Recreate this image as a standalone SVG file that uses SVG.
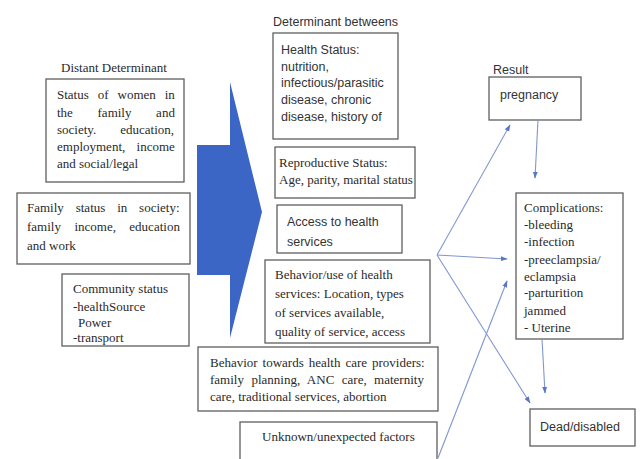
<svg xmlns="http://www.w3.org/2000/svg" width="641" height="459" viewBox="0 0 641 459">
<style>
.box{fill:#fff;stroke:#5f5f5f;stroke-width:1.3}
.s{font-family:"Liberation Serif","Times New Roman",serif;font-size:13px;fill:#2a2a2a}
.a{font-family:"Liberation Sans",Arial,sans-serif;font-size:12.5px;fill:#333}
.c{fill:none;stroke:#8096cf;stroke-width:1.1}
</style>
<defs>
<marker id="ah" viewBox="0 0 10 10" refX="9" refY="5" markerWidth="7" markerHeight="7" markerUnits="userSpaceOnUse" orient="auto">
<path d="M0,1.5 L10,5 L0,8.5 Z" fill="#5b76c4"/>
</marker>
</defs>
<rect width="641" height="459" fill="#fff"/>

<g id="labels">
<text class="s" x="61" y="72" font-size="14px">Distant Determinant</text>
<text class="a" x="273" y="26">Determinant betweens</text>
<text class="a" x="493" y="74" font-size="12px">Result</text>
</g>

<g id="bigArrow">
<polygon points="197,145 230,145 230,82 262,212 230,338 230,275 197,275" fill="#3c66c6"/>
</g>

<g id="statusWomen">
<rect class="box" x="46" y="79" width="138" height="103"/>
<text class="s" x="57" y="99" word-spacing="5.7">Status of women in</text>
<text class="s" x="57" y="117" word-spacing="21.4">the family and</text>
<text class="s" x="57" y="134" word-spacing="20.8">society. education,</text>
<text class="s" x="57" y="151" word-spacing="8.1">employment, income</text>
<text class="s" x="57" y="168">and social/legal</text>
</g>

<g id="familyStatus">
<rect class="box" x="17" y="193" width="173" height="71"/>
<text class="s" x="27" y="212" word-spacing="8.6">Family status in society:</text>
<text class="s" x="27" y="231" word-spacing="10.2">family income, education</text>
<text class="s" x="27" y="250">and work</text>
</g>

<g id="communityStatus">
<rect class="box" x="62" y="274" width="127" height="72"/>
<text class="s" x="73" y="293">Community status</text>
<text class="s" x="73" y="311">-healthSource</text>
<text class="s" x="78" y="327">Power</text>
<text class="s" x="73" y="342">-transport</text>
</g>

<g id="healthStatus">
<rect class="box" x="273" y="33" width="125" height="106"/>
<text class="a" x="281" y="54">Health Status:</text>
<text class="a" x="281" y="71">nutrition,</text>
<text class="a" x="281" y="87">infectious/parasitic</text>
<text class="a" x="281" y="104">disease, chronic</text>
<text class="a" x="281" y="121">disease, history of</text>
</g>

<g id="reproductiveStatus">
<rect class="box" x="275" y="147" width="140" height="51"/>
<text class="s" x="279" y="167">Reproductive Status:</text>
<text class="s" x="279" y="184">Age, parity, marital status</text>
</g>

<g id="access">
<rect class="box" x="277" y="205" width="125" height="48"/>
<text class="a" x="287" y="226">Access to health</text>
<text class="a" x="287" y="246">services</text>
</g>

<g id="behaviorUse">
<rect class="box" x="265" y="260" width="165" height="83"/>
<text class="s" x="275" y="279">Behavior/use of health</text>
<text class="s" x="275" y="298">services: Location, types</text>
<text class="s" x="275" y="317">of services available,</text>
<text class="s" x="275" y="336">quality of service, access</text>
</g>

<g id="behaviorProviders">
<rect class="box" x="198" y="347" width="240" height="64"/>
<text class="s" x="210" y="367" word-spacing="1.7">Behavior towards health care providers:</text>
<text class="s" x="210" y="384" word-spacing="4.2">family planning, ANC care, maternity</text>
<text class="s" x="210" y="401">care, traditional services, abortion</text>
</g>

<g id="unknown">
<rect class="box" x="240" y="422" width="197" height="45"/>
<text class="s" x="262" y="441">Unknown/unexpected factors</text>
</g>

<g id="pregnancy">
<rect class="box" x="489" y="77" width="92" height="43"/>
<text class="a" x="500" y="99">pregnancy</text>
</g>

<g id="complications">
<rect class="box" x="516" y="193" width="107" height="146"/>
<text class="s" x="524" y="212">Complications:</text>
<text class="s" x="524" y="229">-bleeding</text>
<text class="s" x="524" y="246">-infection</text>
<text class="s" x="524" y="264">-preeclampsia/</text>
<text class="s" x="524" y="281">eclampsia</text>
<text class="s" x="524" y="297">-parturition</text>
<text class="s" x="524" y="315">jammed</text>
<text class="s" x="524" y="332">- Uterine</text>
</g>

<g id="dead">
<rect class="box" x="530" y="409" width="105" height="37"/>
<text class="a" x="540" y="431" font-size="13px">Dead/disabled</text>
</g>

<g id="connectors">
<path class="c" d="M538,120 L535,178" marker-end="url(#ah)"/>
<path class="c" d="M542,339 L545,393" marker-end="url(#ah)"/>
<path class="c" d="M437,255 L510,125" marker-end="url(#ah)"/>
<path class="c" d="M437,255 L507,259" marker-end="url(#ah)"/>
<path class="c" d="M437,255 L530,403" marker-end="url(#ah)"/>
<path class="c" d="M438,458 L507,281" marker-end="url(#ah)"/>
</g>
</svg>
